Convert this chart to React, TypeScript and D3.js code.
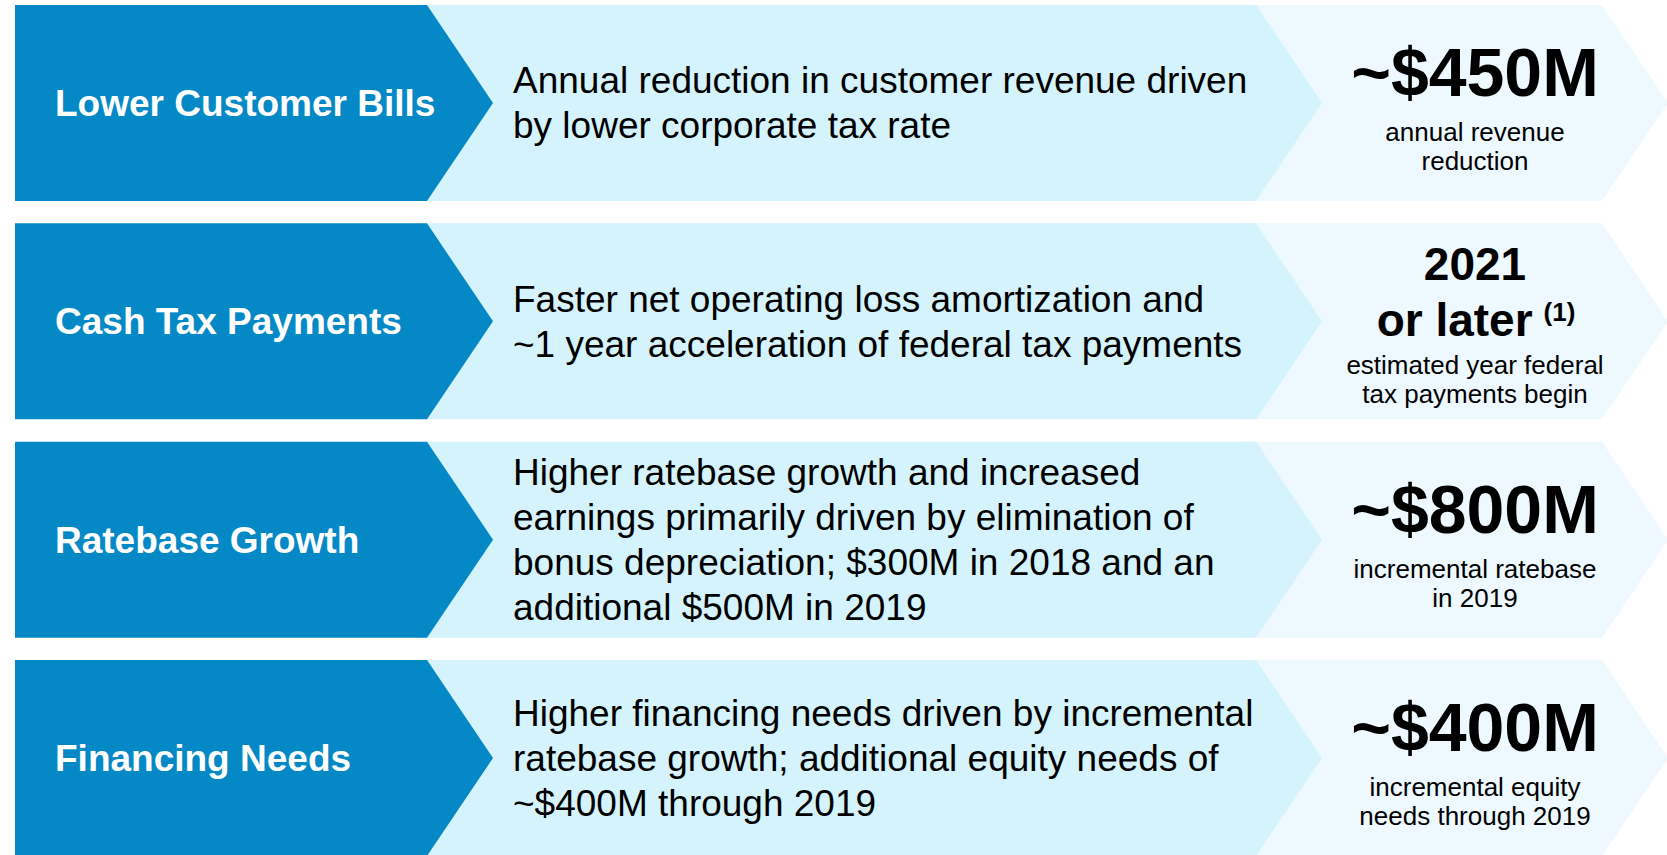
import { line, scaleBand } from "d3";
import { FC } from "react";

// row headings
const labels = [
  "Lower Customer Bills",
  "Cash Tax Payments",
  "Ratebase Growth",
  "Financing Needs",
];

// middle column text, one entry per line
const descriptions = [
  ["Annual reduction in customer revenue driven", "by lower corporate tax rate"],
  ["Faster net operating loss amortization and", "~1 year acceleration of federal tax payments"],
  [
    "Higher ratebase growth and increased",
    "earnings primarily driven by elimination of",
    "bonus depreciation; $300M in 2018 and an",
    "additional $500M in 2019",
  ],
  [
    "Higher financing needs driven by incremental",
    "ratebase growth; additional equity needs of",
    "~$400M through 2019",
  ],
];

// right column headline figures
const values = [["~$450M"], ["2021", "or later"], ["~$800M"], ["~$400M"]];
const footnotes = ["", "(1)", "", ""];

// right column captions
const captions = [
  ["annual revenue", "reduction"],
  ["estimated year federal", "tax payments begin"],
  ["incremental ratebase", "in 2019"],
  ["incremental equity", "needs through 2019"],
];

const W = 1667;
const H = 855;
const FONT = "'Liberation Sans', Arial, Helvetica, sans-serif";
const DARK = "#0489c6";
const MID = "#d4f3fd";
const LIGHT = "#edf9fe";

const App: FC = () => {
  const y = scaleBand<string>()
    .domain(labels)
    .range([5, 856])
    .paddingInner(0.1023)
    .paddingOuter(0);
  const bh = y.bandwidth();
  const depth = 66;

  const poly = line<[number, number]>();
  const chevron = (x0: number, x1: number, top: number) =>
    poly([
      [x0, top],
      [x1, top],
      [x1 + depth, top + bh / 2],
      [x1, top + bh],
      [x0, top + bh],
    ]) + "Z";

  return (
    <svg
      width={W}
      height={H}
      style={{ position: "absolute", left: 0, top: 0, background: "#fff" }}
      fontFamily={FONT}
    >
      {labels.map((lab, i) => {
        const top = y(lab)!;
        const mid = top + bh / 2;
        const desc = descriptions[i];
        const firstBase = mid - ((desc.length - 1) * 45) / 2 + 13;
        const two = values[i].length > 1;
        return (
          <g key={lab}>
            <path d={chevron(1240, 1602, top)} fill={LIGHT} />
            <path d={chevron(420, 1256, top)} fill={MID} />
            <path d={chevron(15, 427, top)} fill={DARK} />
            <text x={55} y={mid + 13} fill="#fff" fontSize={37} fontWeight="bold">
              {lab}
            </text>
            {desc.map((d, j) => (
              <text key={j} x={513} y={firstBase + j * 45} fontSize={37} fill="#000">
                {d}
              </text>
            ))}
            {two ? (
              <>
                <text x={1475} y={top + 57} fontSize={46} fontWeight="bold" textAnchor="middle">
                  {values[i][0]}
                </text>
                <text x={1476} y={top + 113} fontSize={46} fontWeight="bold" textAnchor="middle">
                  {values[i][1]}
                  <tspan fontSize={26} dx={11} dy={-15}>
                    {footnotes[i]}
                  </tspan>
                </text>
              </>
            ) : (
              <text x={1475} y={top + 91} fontSize={68} fontWeight="bold" textAnchor="middle">
                {values[i][0]}
              </text>
            )}
            {captions[i].map((c, j) => (
              <text
                key={j}
                x={1475}
                y={top + (two ? 151 : 136) + j * 29}
                fontSize={26}
                textAnchor="middle"
              >
                {c}
              </text>
            ))}
          </g>
        );
      })}
    </svg>
  );
};

export default App;
